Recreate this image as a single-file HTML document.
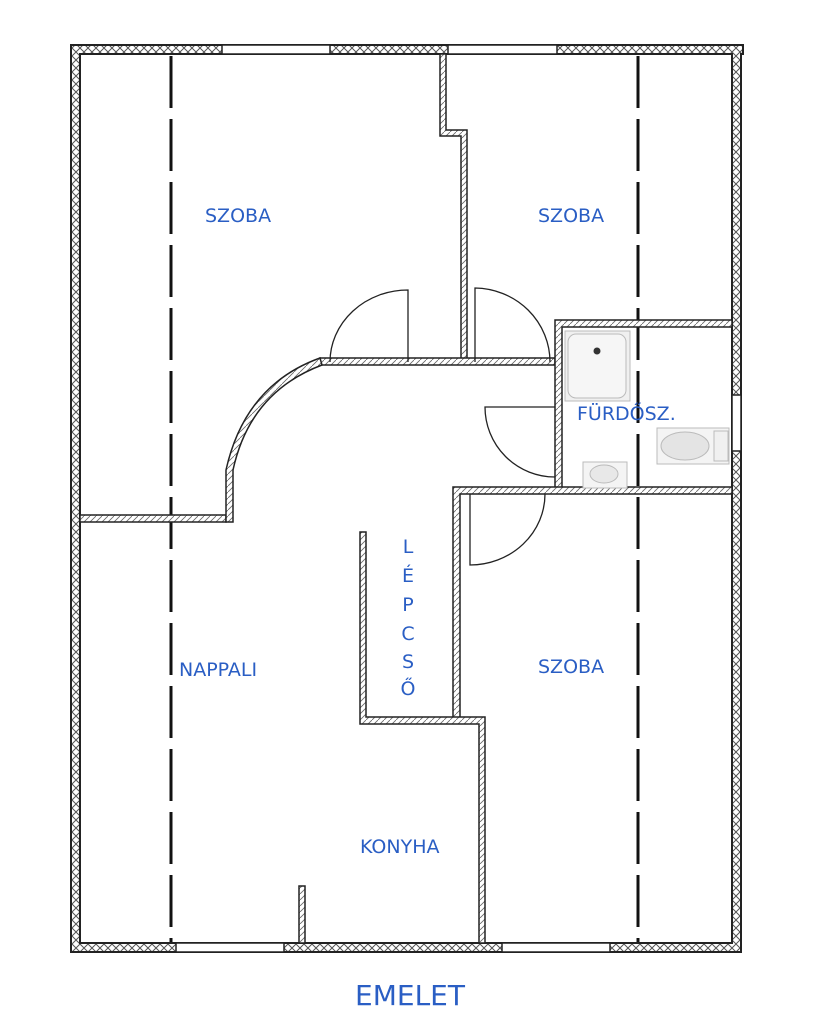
<!DOCTYPE html>
<html><head><meta charset="utf-8"><style>
html,body{margin:0;padding:0;background:#fff;}
svg{display:block}
text{font-family:"DejaVu Sans","Liberation Sans",sans-serif;fill:#2a5ec4;}
</style></head><body>
<svg width="825" height="1024" viewBox="0 0 825 1024" xmlns="http://www.w3.org/2000/svg">
<defs>
<pattern id="h" width="8" height="8" patternUnits="userSpaceOnUse">
<rect width="8" height="8" fill="#fff"/>
<path d="M0 0L8 8M8 0L0 8" stroke="#555" stroke-width="1"/>
</pattern>
<pattern id="t" width="6" height="6" patternUnits="userSpaceOnUse">
<rect width="6" height="6" fill="#fff"/>
<path d="M0 6L6 0" stroke="#666" stroke-width="0.8"/>
</pattern>
</defs>
<!-- outer wall -->
<path d="M71 45H743V54H741V952H71Z M80 54V943H732V54Z" fill="url(#h)" fill-rule="evenodd" stroke="#222" stroke-width="2"/>
<!-- windows -->
<g fill="#fff" stroke="#222" stroke-width="1.5">
<rect x="222" y="45" width="108" height="9"/>
<rect x="448" y="45" width="109" height="9"/>
<rect x="176" y="943" width="108" height="9"/>
<rect x="502" y="943" width="108" height="9"/>
<rect x="732" y="395" width="9" height="56"/>
</g>
<!-- dashed lines -->
<g stroke="#111" stroke-width="3" stroke-dasharray="52 11">
<line x1="171" y1="56" x2="171" y2="942"/>
<line x1="638" y1="56" x2="638" y2="942"/>
</g>
<!-- interior walls -->
<g fill="url(#t)" stroke="#222" stroke-width="1.5">
<path d="M440 54H446V130H467V362H461V136H440Z"/>
<path d="M320 358H555V365H320Z"/>
<path d="M80 515H226V522H80Z"/>
<path d="M320 358 Q245 385 226 470 V522 H233 V470 Q250 392 322 365 Z"/>
<path d="M555 320H732V327H562V490H555Z"/>
<path d="M453 487H732V494H460V722H453Z"/>
<path d="M360 532H366V717H485V943H479V724H360Z"/>
<path d="M299 886H305V943H299Z"/>
</g>
<!-- doors -->
<g fill="none" stroke="#222" stroke-width="1.3">
<path d="M408 362V290A78 72 0 0 0 330 362"/>
<path d="M475 362V288A76 74 0 0 1 550 362"/>
<path d="M555 407H485A70 70 0 0 0 555 477"/>
<path d="M470 494V565A75 71 0 0 0 545 494"/>
</g>
<!-- fixtures -->
<g stroke="#bbb" stroke-width="1">
<rect x="565" y="331" width="65" height="70" fill="#f0f0f0"/>
<rect x="568" y="334" width="58" height="64" rx="8" fill="#f6f6f6"/>
<circle cx="597" cy="351" r="3.5" fill="#333" stroke="none"/>
<rect x="583" y="462" width="44" height="26" fill="#f4f4f4"/>
<ellipse cx="604" cy="474" rx="14" ry="9" fill="#e8e8e8"/>
<rect x="657" y="428" width="72" height="36" fill="#f4f4f4"/>
<ellipse cx="685" cy="446" rx="24" ry="14" fill="#e4e4e4"/>
<rect x="714" y="431" width="14" height="30" fill="#f0f0f0"/>
</g>
<!-- labels -->
<g font-size="19">
<text x="205" y="222">SZOBA</text>
<text x="538" y="222">SZOBA</text>
<text x="538" y="673">SZOBA</text>
<text x="179" y="676">NAPPALI</text>
<text x="360" y="853">KONYHA</text>
<text x="577" y="420">FÜRDŐSZ.</text>
</g>
<g font-size="19" text-anchor="middle">
<text x="408" y="553">L</text>
<text x="408" y="582">É</text>
<text x="408" y="611">P</text>
<text x="408" y="640">C</text>
<text x="408" y="668">S</text>
<text x="408" y="695">Ő</text>
</g>
<text x="410" y="1005" font-size="28" text-anchor="middle">EMELET</text>
</svg>
</body></html>
